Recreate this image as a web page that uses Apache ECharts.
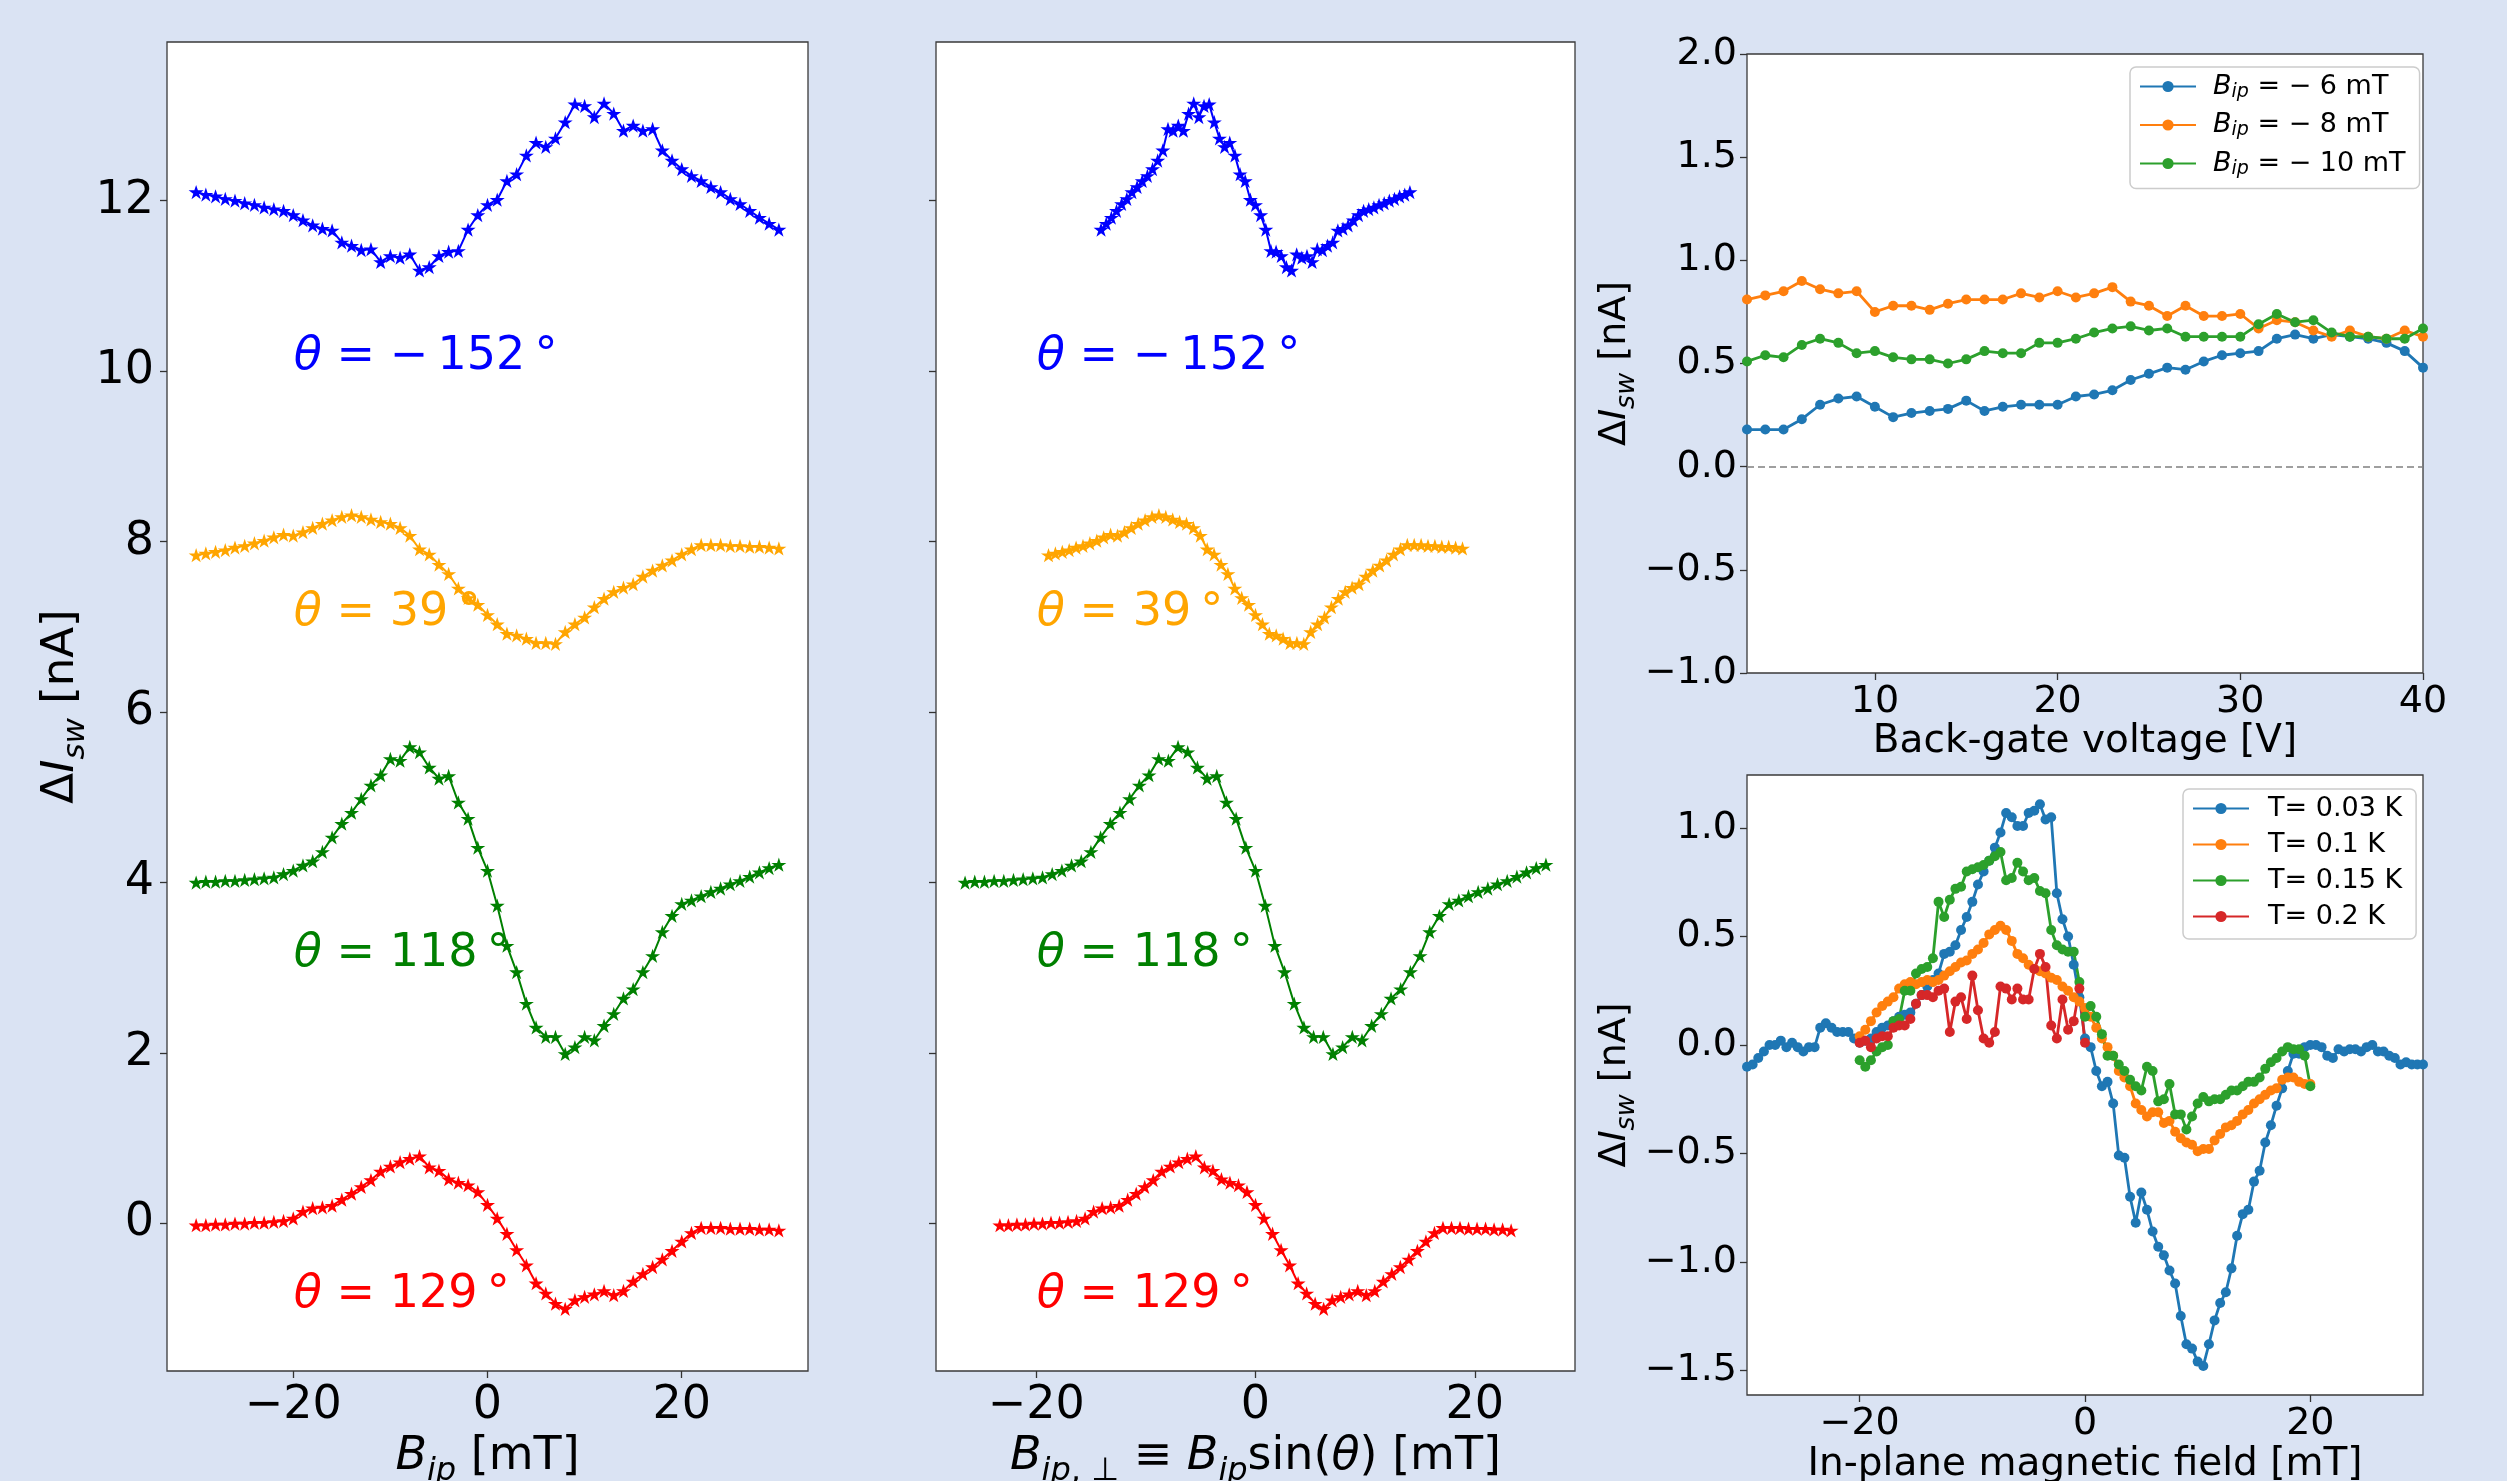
<!DOCTYPE html>
<html>
<head>
<meta charset="utf-8">
<script src="https://cdn.jsdelivr.net/npm/echarts@6/dist/echarts.min.js"></script>
<style>
  html, body { margin: 0; padding: 0; background: #dae3f3; }
  #main { width: 2507px; height: 1481px; }
</style>
</head>
<body>
<div id="main"></div>
<script>
// ---- angle sweeps (left two panels), field in mT ----
var bip = [-30,-29,-28,-27,-26,-25,-24,-23,-22,-21,-20,-19,-18,-17,-16,-15,-14,-13,-12,-11,
  -10,-9,-8,-7,-6,-5,-4,-3,-2,-1,0,1,2,3,4,5,6,7,8,9,10,11,12,13,14,15,16,17,18,19,20,
  21,22,23,24,25,26,27,28,29,30];
var thetaDeg = [-152, 39, 118, 129];
var thetaLabelY = [10, 7, 3, -1];
var angleColors = ['#0000ff', '#ffa500', '#008000', '#ff0000'];

var iswM152 = [12.10,12.07,12.05,12.02,12.00,11.97,11.95,11.92,11.90,11.88,
  11.83,11.77,11.71,11.67,11.65,11.51,11.47,11.42,11.43,11.28,
  11.35,11.33,11.37,11.18,11.22,11.35,11.40,11.41,11.66,11.83,
  11.95,12.01,12.23,12.31,12.53,12.68,12.63,12.73,12.92,13.13,
  13.11,12.98,13.14,13.02,12.82,12.88,12.82,12.84,12.59,12.47,
  12.37,12.29,12.23,12.16,12.10,12.02,11.96,11.88,11.80,11.73,11.66];
var isw39 = [7.84,7.86,7.88,7.90,7.93,7.95,7.98,8.01,8.05,8.08,
  8.07,8.11,8.16,8.21,8.25,8.29,8.31,8.29,8.26,8.23,
  8.21,8.16,8.07,7.91,7.85,7.73,7.62,7.45,7.34,7.26,
  7.14,7.03,6.92,6.90,6.86,6.81,6.81,6.80,6.94,7.03,
  7.11,7.23,7.33,7.41,7.46,7.50,7.59,7.66,7.72,7.78,
  7.85,7.91,7.96,7.96,7.96,7.95,7.95,7.94,7.94,7.93,7.92];
var isw118 = [4.00,4.01,4.01,4.02,4.02,4.03,4.04,4.05,4.06,4.10,
  4.14,4.20,4.25,4.36,4.53,4.69,4.82,4.98,5.14,5.26,
  5.45,5.43,5.59,5.53,5.35,5.22,5.25,4.94,4.75,4.41,
  4.14,3.73,3.26,2.95,2.58,2.30,2.19,2.19,1.99,2.07,
  2.19,2.15,2.32,2.46,2.64,2.75,2.95,3.14,3.42,3.61,
  3.75,3.79,3.84,3.89,3.93,3.98,4.02,4.07,4.12,4.17,4.21];
var isw129 = [-0.02,-0.02,-0.01,-0.01,0.00,0.00,0.01,0.01,0.02,0.03,
  0.06,0.14,0.18,0.19,0.21,0.28,0.35,0.43,0.51,0.61,
  0.67,0.72,0.76,0.79,0.66,0.62,0.52,0.48,0.45,0.37,
  0.22,0.06,-0.12,-0.31,-0.49,-0.70,-0.82,-0.94,-1.00,-0.90,
  -0.86,-0.83,-0.79,-0.84,-0.79,-0.68,-0.59,-0.51,-0.42,-0.32,
  -0.21,-0.11,-0.05,-0.05,-0.05,-0.06,-0.06,-0.06,-0.07,-0.07,-0.08];
var angleCurves = [iswM152, isw39, isw118, isw129];

// ---- back-gate sweep (top right) ----
var gateV = [3,4,5,6,7,8,9,10,11,12,13,14,15,16,17,18,19,20,21,22,23,24,25,26,27,28,29,30,
  31,32,33,34,35,36,37,38,39,40];
var gateM6 = [0.18,0.18,0.18,0.23,0.30,0.33,0.34,0.29,0.24,0.26,0.27,0.28,0.32,0.27,0.29,0.30,
  0.30,0.30,0.34,0.35,0.37,0.42,0.45,0.48,0.47,0.51,0.54,0.55,0.56,0.62,0.64,0.62,0.64,0.63,
  0.62,0.60,0.56,0.48];
var gateM8 = [0.81,0.83,0.85,0.90,0.86,0.84,0.85,0.75,0.78,0.78,0.76,0.79,0.81,0.81,0.81,0.84,
  0.82,0.85,0.82,0.84,0.87,0.80,0.78,0.73,0.78,0.73,0.73,0.74,0.67,0.71,0.70,0.66,0.63,0.66,
  0.63,0.62,0.66,0.63];
var gateM10 = [0.51,0.54,0.53,0.59,0.62,0.60,0.55,0.56,0.53,0.52,0.52,0.50,0.52,0.56,0.55,0.55,
  0.60,0.60,0.62,0.65,0.67,0.68,0.66,0.67,0.63,0.63,0.63,0.63,0.69,0.74,0.70,0.71,0.65,0.63,
  0.63,0.62,0.62,0.67];
var gateFields = ['\u22126', '\u22128', '\u221210'];

// ---- temperature sweep (bottom right), field in mT ----
var fieldT = [-30,-29.5,-29,-28.5,-28,-27.5,-27,-26.5,-26,-25.5,-25,-24.5,-24,-23.5,-23,-22.5,
  -22,-21.5,-21,-20.5,-20,-19.5,-19,-18.5,-18,-17.5,-17,-16.5,-16,-15.5,-15,-14.5,-14,-13.5,
  -13,-12.5,-12,-11.5,-11,-10.5,-10,-9.5,-9,-8.5,-8,-7.5,-7,-6.5,-6,-5.5,-5,-4.5,-4,-3.5,-3,
  -2.5,-2,-1.5,-1,-0.5,0,0.5,1,1.5,2,2.5,3,3.5,4,4.5,5,5.5,6,6.5,7,7.5,8,8.5,9,9.5,10,10.5,
  11,11.5,12,12.5,13,13.5,14,14.5,15,15.5,16,16.5,17,17.5,18,18.5,19,19.5,20,20.5,21,21.5,
  22,22.5,23,23.5,24,24.5,25,25.5,26,26.5,27,27.5,28,28.5,29,29.5,30];
var iswT003 = [-0.10,-0.09,-0.06,-0.03,0.00,0.00,0.02,-0.01,0.01,-0.01,
  -0.03,-0.01,-0.01,0.08,0.10,0.08,0.06,0.06,0.06,0.03,
  0.01,0.02,0.03,0.06,0.08,0.09,0.11,0.13,0.14,0.15,
  0.19,0.23,0.27,0.30,0.33,0.42,0.43,0.46,0.53,0.59,
  0.66,0.74,0.80,0.85,0.91,0.98,1.07,1.05,1.01,1.01,
  1.07,1.08,1.11,1.04,1.05,0.70,0.58,0.50,0.37,0.22,
  0.03,-0.01,-0.12,-0.19,-0.17,-0.27,-0.51,-0.52,-0.70,-0.82,
  -0.68,-0.76,-0.86,-0.93,-0.97,-1.04,-1.10,-1.25,-1.38,-1.40,
  -1.46,-1.48,-1.38,-1.27,-1.19,-1.14,-1.03,-0.88,-0.78,-0.76,
  -0.63,-0.58,-0.45,-0.37,-0.28,-0.20,-0.12,-0.04,-0.04,-0.01,
  0.00,0.00,-0.01,-0.05,-0.06,-0.02,-0.03,-0.02,-0.02,-0.03,
  -0.01,0.00,-0.03,-0.03,-0.05,-0.06,-0.09,-0.08,-0.09,-0.09,-0.09];
var iswT01 = [0.04,0.07,0.11,0.15,0.18,0.20,0.22,0.26,0.28,0.29,
  0.28,0.29,0.30,0.29,0.30,0.32,0.34,0.36,0.38,0.39,
  0.42,0.44,0.47,0.51,0.53,0.55,0.53,0.48,0.42,0.40,
  0.37,0.35,0.34,0.33,0.31,0.30,0.27,0.25,0.22,0.20,
  0.17,0.13,0.08,0.03,-0.01,-0.05,-0.12,-0.15,-0.19,-0.27,
  -0.30,-0.33,-0.31,-0.31,-0.36,-0.35,-0.40,-0.43,-0.45,-0.46,
  -0.49,-0.48,-0.48,-0.44,-0.41,-0.38,-0.37,-0.35,-0.32,-0.30,
  -0.27,-0.25,-0.23,-0.21,-0.20,-0.16,-0.15,-0.15,-0.17,-0.18,-0.18];
var iswT015 = [-0.07,-0.10,-0.07,-0.03,-0.01,0.00,0.11,0.12,0.25,0.25,
  0.33,0.35,0.36,0.40,0.66,0.59,0.67,0.72,0.73,0.80,
  0.81,0.82,0.83,0.85,0.87,0.89,0.76,0.77,0.84,0.80,
  0.76,0.77,0.71,0.70,0.53,0.46,0.44,0.43,0.43,0.29,
  0.13,0.18,0.13,0.05,-0.05,-0.05,-0.09,-0.12,-0.16,-0.19,
  -0.21,-0.10,-0.12,-0.26,-0.25,-0.18,-0.32,-0.32,-0.39,-0.33,
  -0.27,-0.24,-0.26,-0.25,-0.25,-0.23,-0.21,-0.21,-0.19,-0.17,
  -0.17,-0.15,-0.11,-0.08,-0.06,-0.03,-0.01,-0.02,-0.02,-0.05,-0.19];
var iswT02 = [0.01,0.02,-0.01,0.03,0.04,0.04,0.08,0.09,0.09,0.12,
  0.19,0.23,0.23,0.22,0.25,0.26,0.06,0.20,0.22,0.12,
  0.32,0.16,0.03,0.01,0.06,0.27,0.26,0.21,0.26,0.21,
  0.21,0.35,0.42,0.36,0.09,0.03,0.21,0.07,0.11,0.26,
  0.01];
var tempNames = ['T= 0.03 K', 'T= 0.1 K', 'T= 0.15 K', 'T= 0.2 K'];

// ---- tick values ----
var ticksAngleX = [-20, 0, 20];
var ticksAngleY = [0, 2, 4, 6, 8, 10, 12];
var ticksGateX = [10, 20, 30, 40];
var ticksGateY = [-1, -0.5, 0, 0.5, 1, 1.5, 2];
var ticksFieldX = [-20, 0, 20];
var ticksFieldY = [-1.5, -1, -0.5, 0, 0.5, 1];

var tab = ['#1f77b4', '#ff7f0e', '#2ca02c', '#d62728'];
var FONT = 'DejaVu Sans';
var STAR = 'path://M0,-50L11.23,-15.45L47.55,-15.45L18.17,5.9L29.39,40.45L0,19.1L-29.39,40.45L-18.17,5.9L-47.55,-15.45L-11.23,-15.45Z';

function fmtInt(v) { return (v < 0 ? '\u2212' : '') + Math.abs(v); }
function fmt1(v) { return (v < 0 ? '\u2212' : '') + Math.abs(v).toFixed(1); }

function richSet(size, color) {
  var lh = Math.round(size * 1.35), sub = Math.round(size * 0.7);
  color = color || '#000';
  return {
    n: { fontFamily: FONT, fontSize: size, lineHeight: lh, color: color },
    i: { fontFamily: FONT, fontSize: size, fontStyle: 'italic', lineHeight: lh, color: color },
    s: { fontFamily: FONT, fontSize: sub, fontStyle: 'italic', lineHeight: sub, verticalAlign: 'bottom', color: color },
    u: { fontFamily: FONT, fontSize: sub, lineHeight: sub, verticalAlign: 'bottom', color: color }
  };
}

function valAxis(grid, min, max, ticks, fmt, size, showLabel, margin) {
  return {
    type: 'value', gridIndex: grid, min: min, max: max,
    axisLine: { show: false, onZero: false },
    splitLine: { show: false },
    axisTick: { show: true, length: 7, customValues: ticks, lineStyle: { color: '#333', width: 1.3 } },
    axisLabel: { show: showLabel, customValues: ticks, formatter: fmt, fontFamily: FONT,
      fontSize: size, color: '#000', margin: margin }
  };
}

var gridBase = { show: true, backgroundColor: '#ffffff', borderColor: '#3a3a3a', borderWidth: 1.3,
  containLabel: false, outerBoundsMode: 'none' };
var grids = [
  Object.assign({ left: 167, top: 42, width: 641, height: 1329 }, gridBase),
  Object.assign({ left: 936, top: 42, width: 639, height: 1329 }, gridBase),
  Object.assign({ left: 1747, top: 54, width: 676, height: 619 }, gridBase),
  Object.assign({ left: 1747, top: 775, width: 676, height: 620 }, gridBase)
];

var xAxes = [
  Object.assign(valAxis(0, -33, 33, ticksAngleX, fmtInt, 46, true, 12), {
    name: '{i|B}{s|ip}{n| [mT]}', nameLocation: 'middle', nameGap: 47,
    nameTextStyle: { rich: richSet(46) } }),
  Object.assign(valAxis(1, -29.14, 29.14, ticksAngleX, fmtInt, 46, true, 12), {
    name: '{i|B}{s|ip}{u|, \u22a5}{n| \u2261 }{i|B}{s|ip}{n|sin(}{i|\u03b8}{n|) [mT]}',
    nameLocation: 'middle', nameGap: 47, nameTextStyle: { rich: richSet(46) } }),
  Object.assign(valAxis(2, 3, 40, ticksGateX, fmtInt, 38, true, 10), {
    name: 'Back-gate voltage [V]', nameLocation: 'middle', nameGap: 44,
    nameTextStyle: { fontFamily: FONT, fontSize: 39, color: '#000' } }),
  Object.assign(valAxis(3, -30, 30, ticksFieldX, fmtInt, 38, true, 10), {
    name: 'In-plane magnetic field [mT]', nameLocation: 'middle', nameGap: 50,
    nameTextStyle: { fontFamily: FONT, fontSize: 39, color: '#000' } })
];
var yName = '{n|\u0394}{i|I}{s|sw}{n| [nA]}';
var yAxes = [
  Object.assign(valAxis(0, -1.73, 13.86, ticksAngleY, fmtInt, 46, true, 13), {
    name: yName, nameLocation: 'middle', nameGap: 72, nameRotate: 90,
    nameTextStyle: { rich: richSet(45) } }),
  valAxis(1, -1.73, 13.86, ticksAngleY, fmtInt, 46, false, 13),
  Object.assign(valAxis(2, -1, 2, ticksGateY, fmt1, 38, true, 10), {
    name: yName, nameLocation: 'middle', nameGap: 106, nameRotate: 90,
    nameTextStyle: { rich: richSet(38) } }),
  Object.assign(valAxis(3, -1.614, 1.245, ticksFieldY, fmt1, 38, true, 10), {
    name: yName, nameLocation: 'middle', nameGap: 106, nameRotate: 90,
    nameTextStyle: { rich: richSet(38) } })
];

function thetaText(deg) {
  var v = deg < 0 ? '\u2212\u2009' + Math.abs(deg) : String(deg);
  return '{i|\u03b8}{n| = ' + v + '\u2009\u00b0}';
}

var series = [];
angleCurves.forEach(function (curve, k) {
  var s = Math.sin(thetaDeg[k] * Math.PI / 180);
  [0, 1].forEach(function (panel) {
    series.push({
      type: 'line', xAxisIndex: panel, yAxisIndex: panel,
      data: bip.map(function (b, j) { return [panel === 0 ? b : b * s, curve[j]]; }),
      color: angleColors[k],
      symbol: STAR, symbolSize: 15, symbolKeepAspect: true,
      lineStyle: { width: 2, color: angleColors[k] },
      itemStyle: { color: angleColors[k] },
      silent: true,
      markPoint: {
        silent: true, symbol: 'circle', symbolSize: 1,
        itemStyle: { color: 'rgba(0,0,0,0)' },
        data: [{ coord: [-20, thetaLabelY[k]] }],
        label: { show: true, position: 'right', distance: 0, offset: [0, -14],
          formatter: thetaText(thetaDeg[k]), rich: richSet(46, angleColors[k]) }
      }
    });
  });
});

var gateCurves = [gateM6, gateM8, gateM10];
gateCurves.forEach(function (curve, k) {
  var sObj = {
    type: 'line', name: 'gate' + k, xAxisIndex: 2, yAxisIndex: 2,
    data: gateV.map(function (v, j) { return [v, curve[j]]; }),
    color: tab[k], symbol: 'circle', symbolSize: 10,
    lineStyle: { width: 2.8, color: tab[k] }, itemStyle: { color: tab[k] }, silent: true
  };
  if (k === 0) {
    sObj.markLine = {
      silent: true, symbol: ['none', 'none'], label: { show: false },
      lineStyle: { type: [7, 4], color: '#808080', width: 1.6 },
      data: [{ yAxis: 0 }]
    };
  }
  series.push(sObj);
});

var tempX = [fieldT, fieldT.slice(20, 101), fieldT.slice(20, 101), fieldT.slice(20, 61)];
var tempY = [iswT003, iswT01, iswT015, iswT02];
tempY.forEach(function (curve, k) {
  series.push({
    type: 'line', name: tempNames[k], xAxisIndex: 3, yAxisIndex: 3,
    data: tempX[k].map(function (v, j) { return [v, curve[j]]; }),
    color: tab[k], symbol: 'circle', symbolSize: 10,
    lineStyle: { width: 2.8, color: tab[k] }, itemStyle: { color: tab[k] }, silent: true
  });
});

var legendBox = {
  orient: 'vertical', selectedMode: false, backgroundColor: 'rgba(255,255,255,0.85)',
  borderColor: '#cccccc', borderWidth: 1.5, borderRadius: 6, itemWidth: 56, itemHeight: 14
};
var legendRich = richSet(27);
legendRich.n.lineHeight = 30; legendRich.i.lineHeight = 30;

var option = {
  backgroundColor: '#dae3f3',
  animation: false,
  grid: grids,
  xAxis: xAxes,
  yAxis: yAxes,
  legend: [
    Object.assign({
      data: ['gate0', 'gate1', 'gate2'], left: 2130, top: 67, itemGap: 10, padding: [6, 14, 10, 9],
      formatter: function (name) {
        var k = +name.slice(4);
        return '{g| }{i|B}{s|ip}{n| = ' + gateFields[k].replace('\u2212', '\u2212 ') + ' mT}';
      },
      textStyle: { rich: Object.assign({ g: { width: 12 } }, legendRich) }
    }, legendBox),
    Object.assign({
      data: tempNames, left: 2183, top: 789, itemGap: 9, padding: [6, 14, 9, 9],
      formatter: function (name) { return '{g| }{n|' + name + '}'; },
      textStyle: { rich: { g: { width: 14 }, n: { fontFamily: FONT, fontSize: 27, lineHeight: 28, color: '#000' } } }
    }, legendBox)
  ],
  series: series
};

var chart = echarts.init(document.getElementById('main'));
chart.setOption(option);
</script>
</body>
</html>
